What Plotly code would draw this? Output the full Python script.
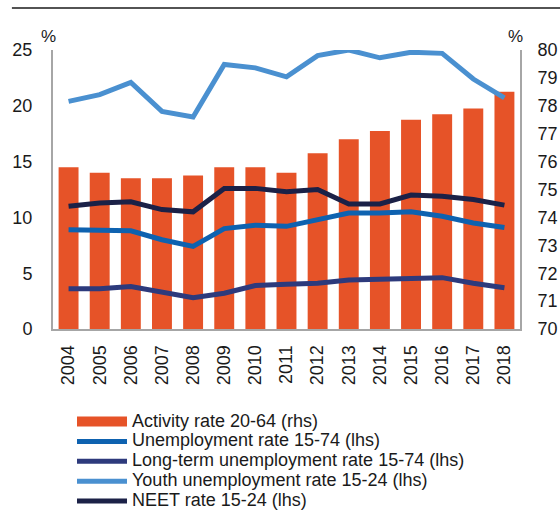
import plotly.graph_objects as go

years = [str(y) for y in range(2004, 2019)]
activity_rate = [75.8, 75.6, 75.4, 75.4, 75.5, 75.8, 75.8, 75.6, 76.3, 76.8, 77.1, 77.5, 77.7, 77.9, 78.5]
unemployment = [8.9, 8.9, 8.8, 8.0, 7.4, 9.0, 9.3, 9.2, 9.8, 10.4, 10.4, 10.5, 10.1, 9.5, 9.1]
long_term = [3.6, 3.6, 3.8, 3.3, 2.8, 3.2, 3.9, 4.0, 4.1, 4.4, 4.5, 4.6, 4.6, 4.1, 3.7]
youth = [20.4, 21.0, 22.1, 19.5, 19.0, 23.7, 23.4, 22.6, 24.5, 25.0, 24.3, 24.8, 24.7, 22.4, 20.7]
neet = [11.0, 11.3, 11.4, 10.7, 10.5, 12.6, 12.6, 12.3, 12.5, 11.2, 11.2, 12.0, 11.9, 11.6, 11.1]

FONT = "Liberation Sans, Arial, sans-serif"
TXT = "#1a1a1a"
AX = "#a6a6a6"
C_ACT = "#E65328"


def lg(name):
    return "<span style='font-size:18px'>" + name + "</span>"


fig = go.Figure()
# legend swatch for the bars (wide rectangle as in the reference)
fig.add_trace(go.Scatter(x=[None], y=[None], name=lg("Activity rate 20-64 (rhs)"),
                         mode="lines", line=dict(color=C_ACT, width=10), yaxis="y",
                         hoverinfo="skip"))
fig.add_trace(go.Bar(x=years, y=activity_rate, name="Activity rate 20-64 (rhs)",
                     marker=dict(color=C_ACT, line=dict(width=0)), yaxis="y",
                     showlegend=False))
fig.add_trace(go.Scatter(x=years, y=unemployment, name=lg("Unemployment rate 15-74 (lhs)"),
                         mode="lines", line=dict(color="#0E62B0", width=5), yaxis="y2"))
fig.add_trace(go.Scatter(x=years, y=long_term, name=lg("Long-term unemployment rate 15-74 (lhs)"),
                         mode="lines", line=dict(color="#2D3A7C", width=5), yaxis="y2"))
fig.add_trace(go.Scatter(x=years, y=youth, name=lg("Youth unemployment rate 15-24 (lhs)"),
                         mode="lines", line=dict(color="#4A90D0", width=5), yaxis="y2"))
fig.add_trace(go.Scatter(x=years, y=neet, name=lg("NEET rate 15-24 (lhs)"),
                         mode="lines", line=dict(color="#1B2147", width=5), yaxis="y2"))

fig.update_layout(
    width=560, height=514,
    margin=dict(l=53, r=40, t=50, b=185, autoexpand=False),
    paper_bgcolor="white", plot_bgcolor="white",
    font=dict(family=FONT, size=18, color=TXT),
    bargap=0.36,
    showlegend=True,
    legend=dict(x=0.0407, xanchor="left", y=-0.278, yanchor="top",
                font=dict(size=13, color=TXT), tracegroupgap=0,
                bgcolor="rgba(0,0,0,0)", itemwidth=50),
    xaxis=dict(type="category", tickangle=-90, showline=True, linecolor=AX, linewidth=2,
               showgrid=False, ticks="", ticklabelstandoff=7, automargin=False,
               tickfont=dict(size=18)),
    yaxis=dict(side="right", range=[70, 80], dtick=1, showline=True, linecolor=AX, linewidth=2,
               showgrid=False, zeroline=False, ticks="", ticklabelstandoff=12,
               automargin=False, tickfont=dict(size=18)),
    yaxis2=dict(side="left", overlaying="y", range=[0, 25], dtick=5, showline=True,
                linecolor=AX, linewidth=2, showgrid=False, zeroline=False, ticks="",
                ticklabelstandoff=15, automargin=False, tickfont=dict(size=18)),
    shapes=[dict(type="line", xref="paper", yref="paper", x0=-0.088, x1=1.086,
                 y0=1.1505, y1=1.1505, line=dict(color="#1a1a1a", width=1.5))],
    annotations=[
        dict(text="%", xref="paper", yref="paper", x=-0.009, y=1.047, showarrow=False,
             font=dict(size=17, color=TXT), xanchor="center", yanchor="middle"),
        dict(text="%", xref="paper", yref="paper", x=0.991, y=1.047, showarrow=False,
             font=dict(size=17, color=TXT), xanchor="center", yanchor="middle"),
    ],
)

# the figure fills the whole 560x514 window: no page margin, no scrollbars
fig.write_html("out.html",
               config={"displayModeBar": False},
               post_script="document.body.style.margin='0';"
                           "document.body.style.overflow='hidden';"
                           "document.documentElement.style.overflow='hidden';")
